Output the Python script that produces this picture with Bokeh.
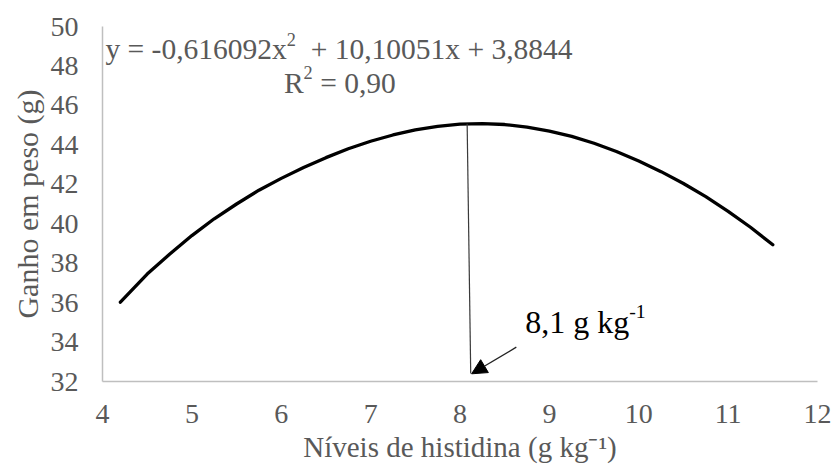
from bokeh.plotting import figure
from bokeh.models import Label, Arrow, NormalHead, FixedTicker, Range1d
from bokeh.embed import file_html
from bokeh.resources import INLINE

# ---- data ----
curve_x = [4.2, 4.5, 4.75, 5.0, 5.25, 5.5, 5.75, 6.0, 6.25, 6.5, 6.75, 7.0, 7.25, 7.5,
           7.75, 8.0, 8.25, 8.5, 8.75, 9.0, 9.25, 9.5, 9.75, 10.0, 10.25, 10.5, 10.75,
           11.0, 11.25, 11.5]
curve_y = [36.02, 37.45, 38.45, 39.4, 40.25, 41.0, 41.7, 42.3, 42.85, 43.35, 43.8, 44.18,
           44.5, 44.76, 44.94, 45.05, 45.08, 45.03, 44.9, 44.7, 44.43, 44.08, 43.66, 43.18,
           42.64, 42.04, 41.37, 40.63, 39.82, 38.93]
optimum_x = [8.08, 8.12]
optimum_y = [45.07, 32.4]
x_ticks = [4, 5, 6, 7, 8, 9, 10, 11, 12]
y_ticks = [32, 34, 36, 38, 40, 42, 44, 46, 48, 50]
eq_parts = ["y = -0,616092x", "2", "\u00a0\u00a0+ 10,10051x + 3,8844"]
r2_parts = ["R", "2", "\u00a0= 0,90"]
opt_parts = ["8,1 g kg", "-1"]
xtitle = "Níveis de histidina (g kg\u207b\u00b9)"
ytitle = "Ganho em peso (g)"

FONT = "Liberation Serif"
GREY = "#595959"
W, H = 831, 465
ML, MR, MT, MB = 102, 14, 26, 84
XMIN, XMAX, YMIN, YMAX = 4, 12, 32, 50
PX_X = (W - ML - MR) / (XMAX - XMIN)
PX_Y = (H - MT - MB) / (YMAX - YMIN)

# Times/Liberation Serif advance widths (per 1000 em)
ADV = {' ': 250, '\u00a0': 250, '=': 564, '+': 564, '-': 333, ',': 250, '(': 333, ')': 333,
       'x': 500, 'y': 500, 'R': 667, 'g': 500, 'k': 500}


def tw(s, size):
    return sum(ADV.get(c, 500) for c in s) / 1000.0 * size


p = figure(width=W, height=H, output_backend="svg", toolbar_location=None,
           x_range=Range1d(XMIN, XMAX), y_range=Range1d(YMIN, YMAX),
           min_border_left=ML, min_border_right=MR, min_border_top=MT,
           min_border_bottom=MB)
p.outline_line_color = None
p.grid.visible = False
p.background_fill_color = "white"
p.border_fill_color = "white"

for ax in (p.xaxis[0], p.yaxis[0]):
    ax.axis_line_color = "#bfbfbf"
    ax.axis_line_width = 1.5
    ax.major_tick_line_color = None
    ax.minor_tick_line_color = None
    ax.major_tick_out = 0
    ax.major_tick_in = 0
    ax.minor_tick_out = 0
    ax.major_label_text_font = FONT
    ax.major_label_text_font_size = "28px"
    ax.major_label_text_color = GREY
    ax.axis_label_text_font = FONT
    ax.axis_label_text_font_style = "normal"
    ax.axis_label_text_color = GREY

p.xaxis.ticker = FixedTicker(ticks=x_ticks)
p.yaxis.ticker = FixedTicker(ticks=y_ticks)
p.xaxis.major_label_standoff = 23
p.yaxis.major_label_standoff = 24
p.yaxis.axis_label = ytitle
p.yaxis.axis_label_text_font_size = "30px"
p.yaxis.axis_label_standoff = 4
p.xaxis.axis_label = xtitle
p.xaxis.axis_label_text_font_size = "29px"
p.xaxis.axis_label_standoff = 5

p.line(curve_x, curve_y, line_color="black", line_width=3.3, line_join="round", line_cap="round")
p.line(optimum_x, optimum_y, line_color="#3a3a3a", line_width=1.2)

p.add_layout(Arrow(end=NormalHead(size=15, fill_color="black", line_color="black"),
                   x_start=8.63, y_start=33.74, x_end=8.13, y_end=32.39,
                   line_color="#222222", line_width=1.3))


def rich(parts, x0, y0, size, color, sup_idx, sup_scale=0.62, raise_em=0.34):
    x = x0
    for i, s in enumerate(parts):
        if i in sup_idx:
            fs = size * sup_scale
            yy = y0 + raise_em * size / PX_Y
        else:
            fs = size
            yy = y0
        p.add_layout(Label(x=x, y=yy, text=s, text_font=FONT, text_font_size=f"{fs:.1f}px",
                           text_color=color, text_align="left", text_baseline="alphabetic"))
        x += tw(s, fs) / PX_X


rich(eq_parts, 4.033, 48.85, 29.5, GREY, {1})
rich(r2_parts, 6.03, 47.15, 29.5, GREY, {1})
rich(opt_parts, 8.73, 35.0, 32, "black", {1})

open("out.html", "w").write(file_html(p, INLINE))
